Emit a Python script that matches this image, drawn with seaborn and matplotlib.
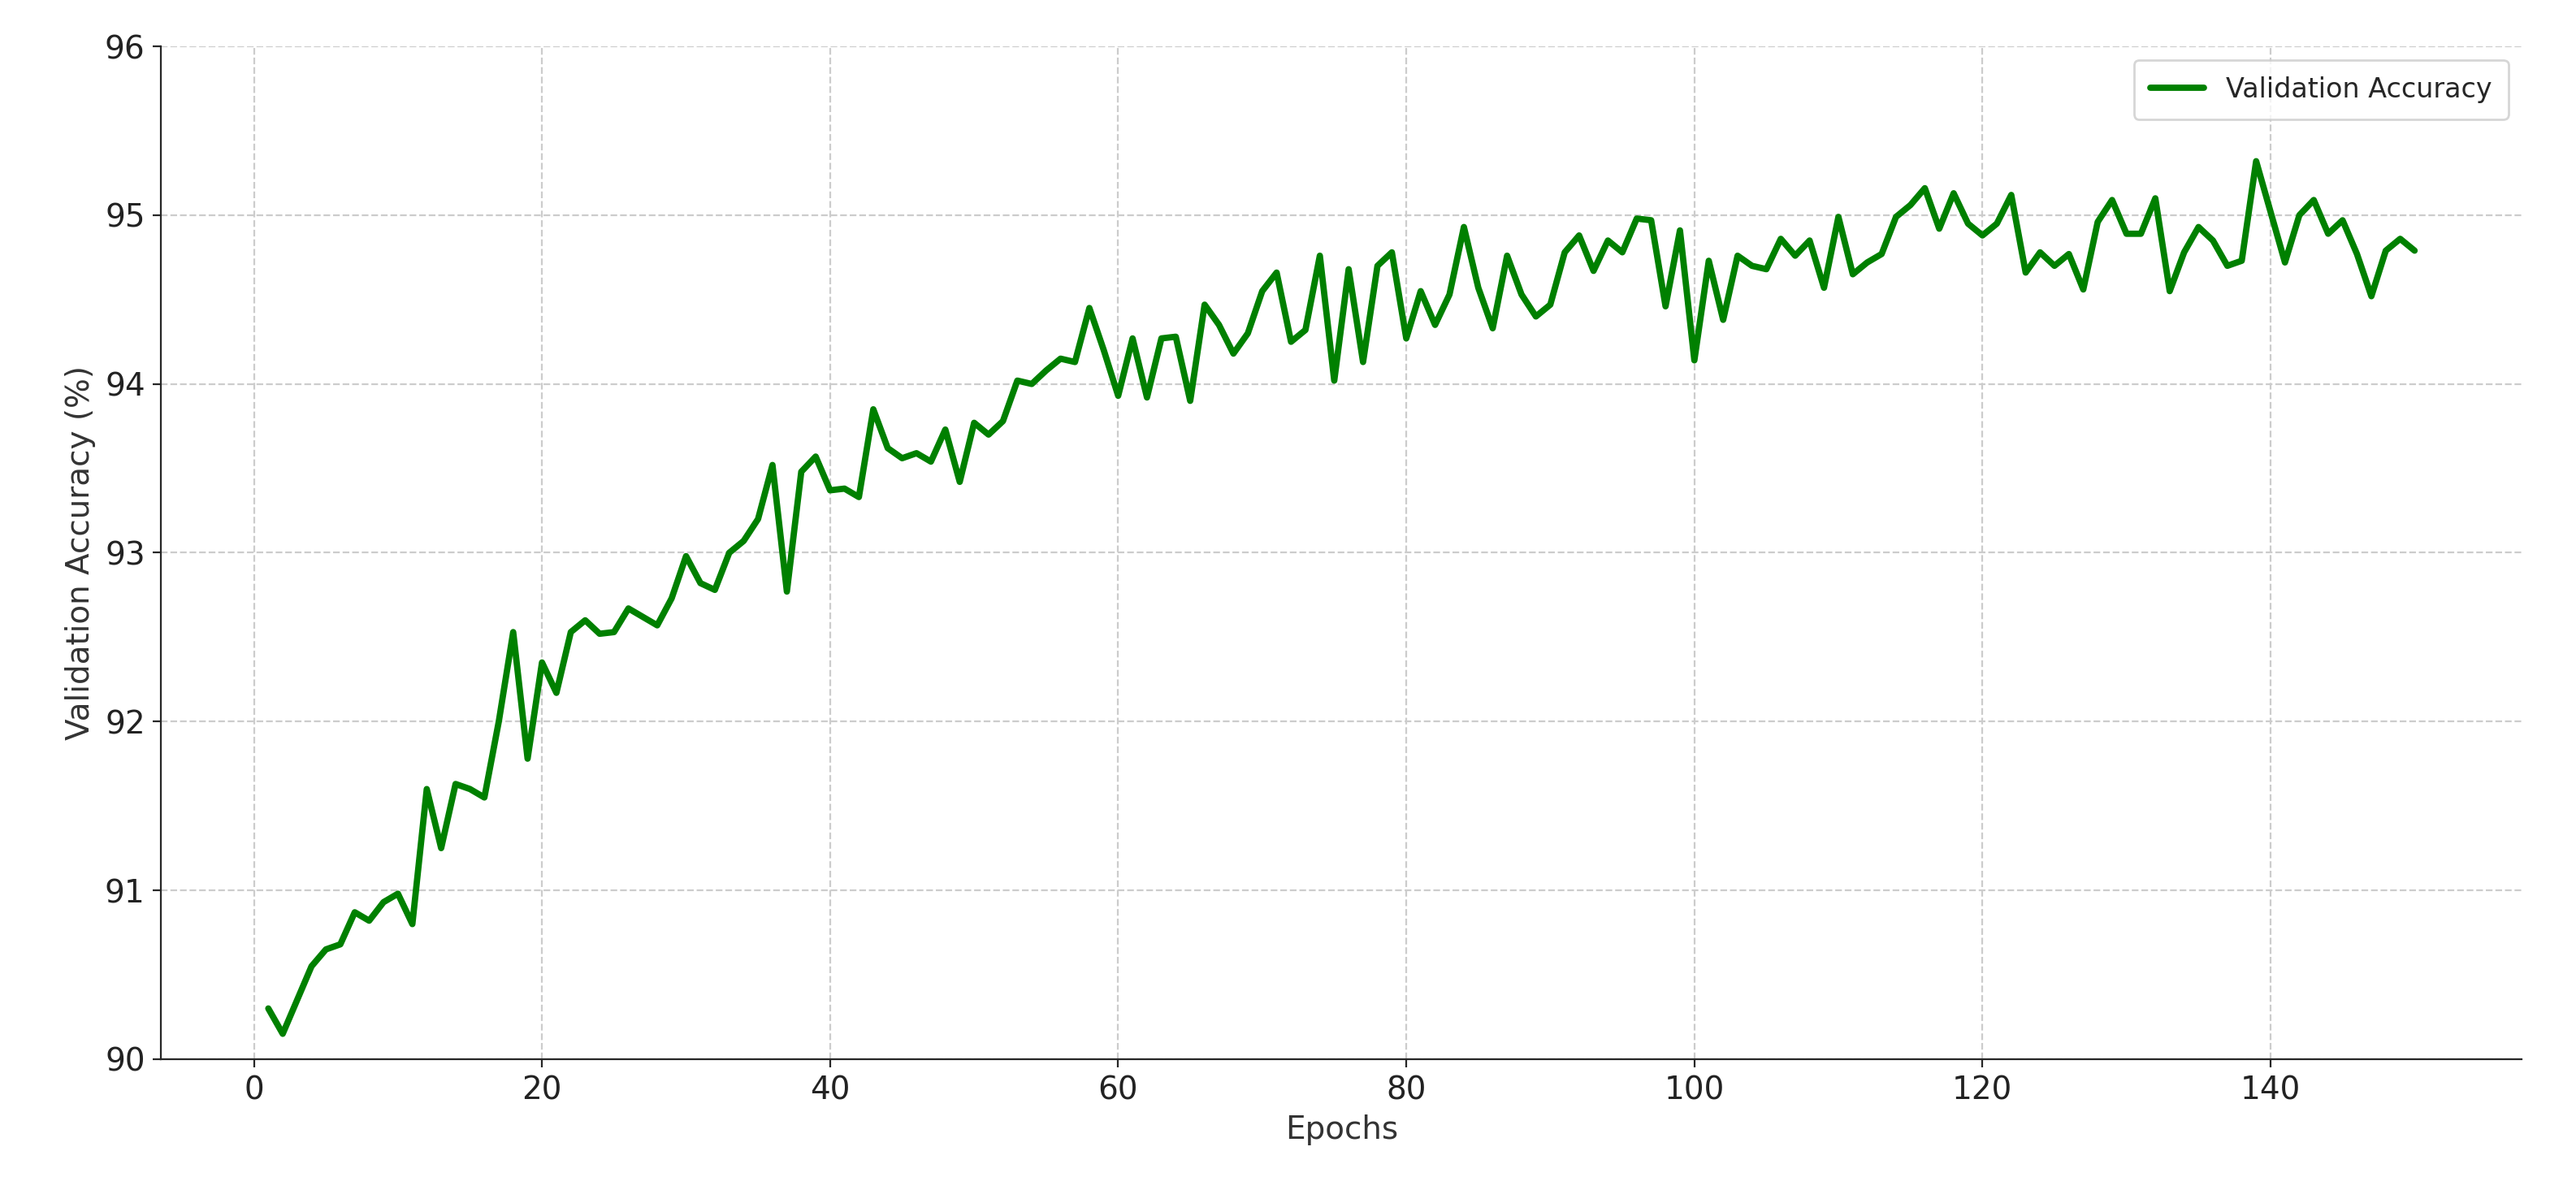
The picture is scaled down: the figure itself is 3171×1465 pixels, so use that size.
import numpy as np
import pandas as pd
import matplotlib
matplotlib.use("Agg")
import matplotlib.pyplot as plt
import seaborn as sns

epochs = list(range(1, 151))
val_acc = [
    90.30, 90.15, 90.35, 90.55, 90.65, 90.68, 90.87, 90.82, 90.93, 90.98,
    90.80, 91.60, 91.25, 91.63, 91.60, 91.55, 92.00, 92.53, 91.78, 92.35,
    92.17, 92.53, 92.60, 92.52, 92.53, 92.67, 92.62, 92.57, 92.73, 92.98,
    92.82, 92.78, 93.00, 93.07, 93.20, 93.52, 92.77, 93.48, 93.57, 93.37,
    93.38, 93.33, 93.85, 93.62, 93.56, 93.59, 93.54, 93.73, 93.42, 93.77,
    93.70, 93.78, 94.02, 94.00, 94.08, 94.15, 94.13, 94.45, 94.20, 93.93,
    94.27, 93.92, 94.27, 94.28, 93.90, 94.47, 94.35, 94.18, 94.30, 94.55,
    94.66, 94.25, 94.32, 94.76, 94.02, 94.68, 94.13, 94.70, 94.78, 94.27,
    94.55, 94.35, 94.53, 94.93, 94.57, 94.33, 94.76, 94.53, 94.40, 94.47,
    94.78, 94.88, 94.67, 94.85, 94.78, 94.98, 94.97, 94.46, 94.91, 94.14,
    94.73, 94.38, 94.76, 94.70, 94.68, 94.86, 94.76, 94.85, 94.57, 94.99,
    94.65, 94.72, 94.77, 94.99, 95.06, 95.16, 94.92, 95.13, 94.95, 94.88,
    94.95, 95.12, 94.66, 94.78, 94.70, 94.77, 94.56, 94.96, 95.09, 94.89,
    94.89, 95.10, 94.55, 94.78, 94.93, 94.85, 94.70, 94.73, 95.32, 95.02,
    94.72, 95.00, 95.09, 94.89, 94.97, 94.77, 94.52, 94.79, 94.86, 94.79,
]

df = pd.DataFrame({"Epochs": epochs, "Validation Accuracy": val_acc})

sns.set_style("ticks")
plt.rcParams['font.family'] = ['DejaVu Sans']

fig, ax = plt.subplots(figsize=(15.855, 7.325), dpi=200)
fig.subplots_adjust(left=0.0625, right=0.979, top=0.961, bottom=0.11)

sns.lineplot(data=df, x="Epochs", y="Validation Accuracy", color="green",
             linewidth=2.8, label="Validation Accuracy", ax=ax)

ax.set_ylim(90, 96)
ax.set_xticks([0, 20, 40, 60, 80, 100, 120, 140])
ax.set_xlabel("Epochs", fontsize=14, color="#333333")
ax.set_ylabel("Validation Accuracy (%)", fontsize=14, color="#333333")
ax.tick_params(labelsize=14, labelcolor="#222222")
ax.grid(True, linestyle="--", color="#cccccc", linewidth=0.8)
sns.despine(ax=ax)
ax.legend(loc="upper right", fontsize=12, frameon=True, fancybox=True,
          borderpad=0.6)

fig.savefig("out.png", dpi=200)
